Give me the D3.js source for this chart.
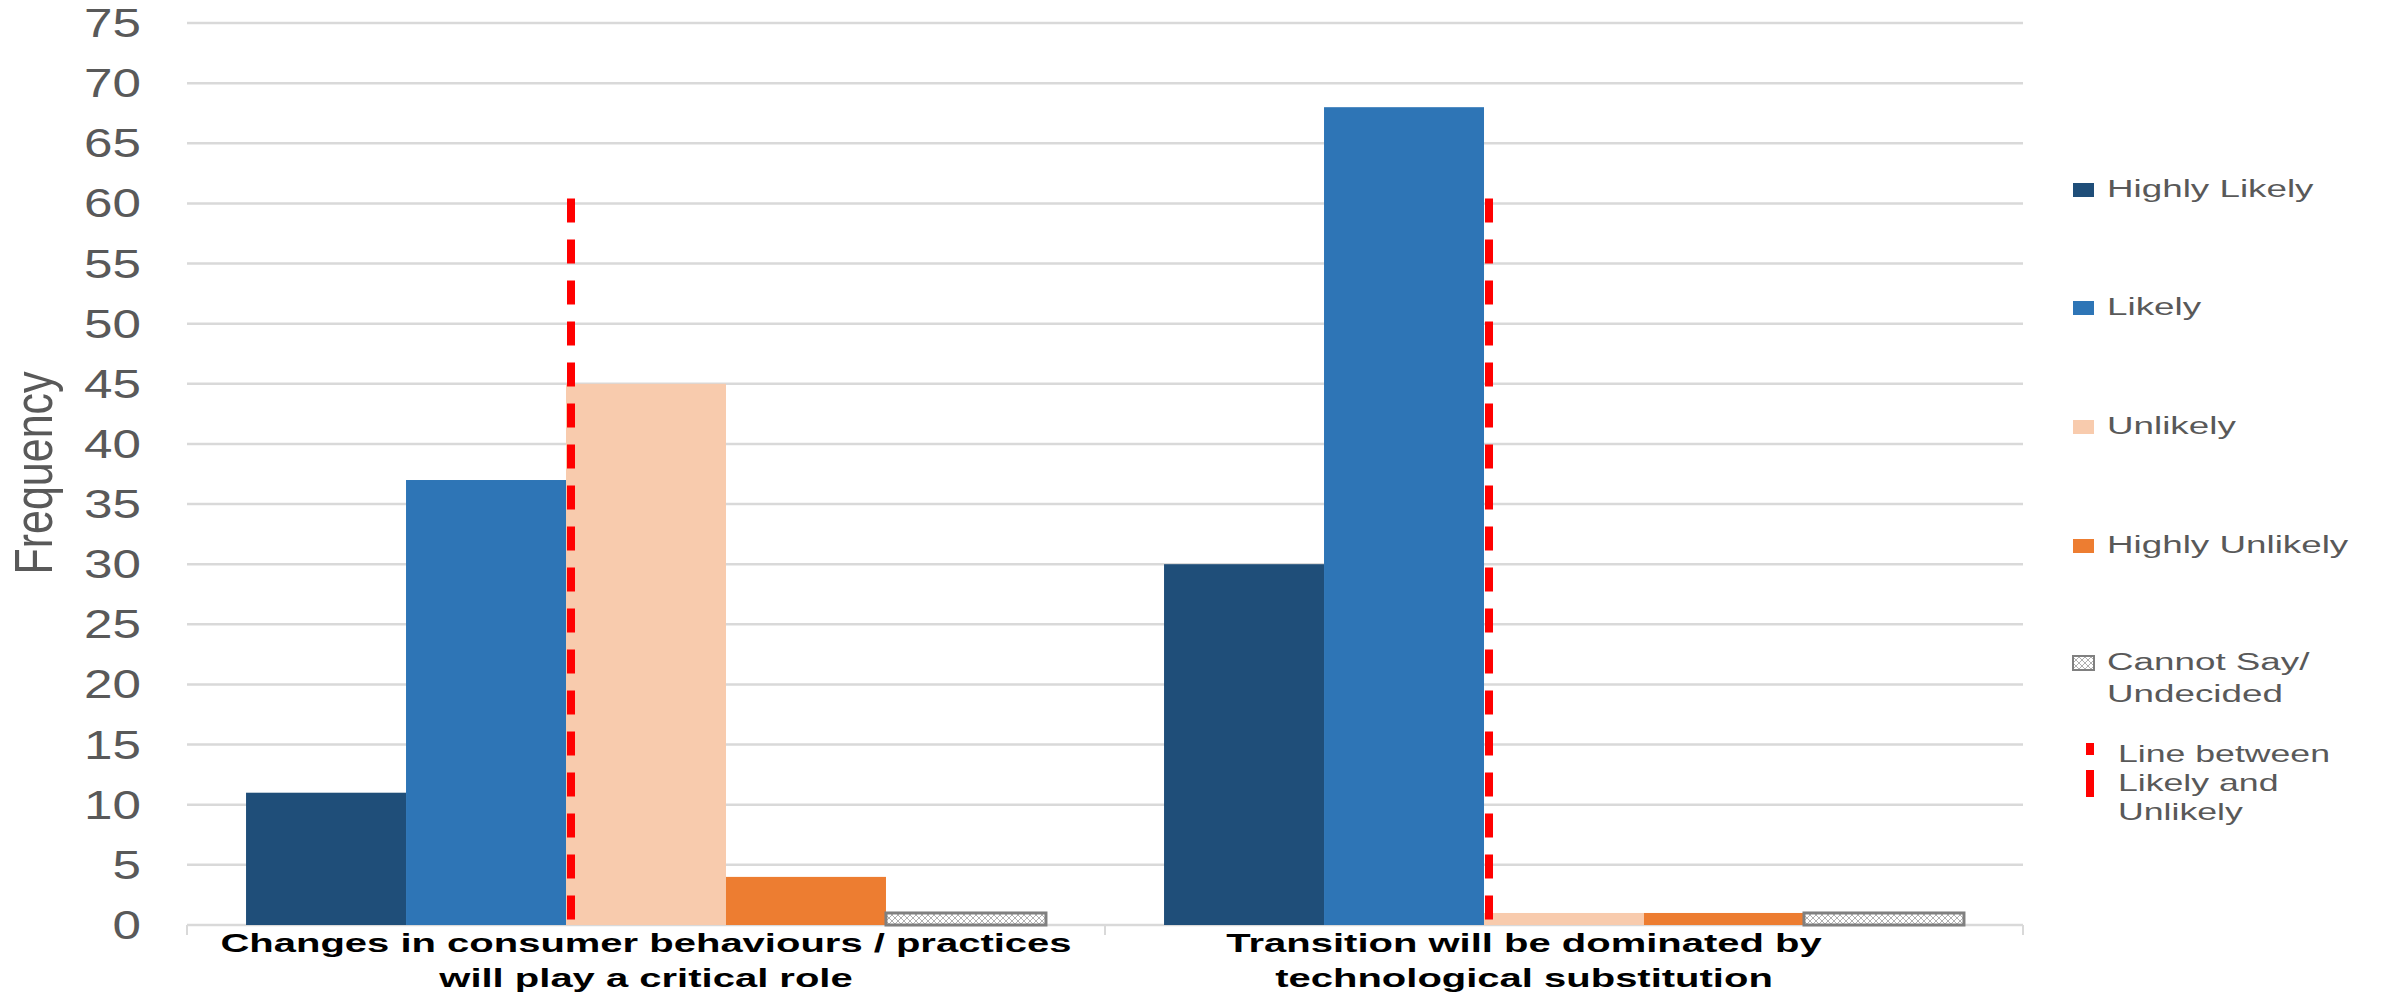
<!DOCTYPE html>
<html lang="en">
<head>
    <meta charset="UTF-8">
    <title>Frequency by statement</title>
    <style>
        body, html {
            margin: 0;
            padding: 0;
            background: #fff;
            overflow: hidden;
        }
        text {
            font-family: "Liberation Sans", Arial, sans-serif;
        }
    </style>
</head>
<body>
    <script src="https://d3js.org/d3.v7.min.js"></script>
    <script>
        // data
        var categories = [
            ["Changes in consumer behaviours / practices", "will play a critical role"],
            ["Transition will be dominated by", "technological substitution"]
        ];
        var labelShift = [0, -40];
        var series = ["Highly Likely", "Likely", "Unlikely", "Highly Unlikely", "Cannot Say/ Undecided"];
        var colors = ["#1F4E79", "#2E75B6", "#F8CBAD", "#ED7D31", "url(#hatch)"];
        var valuesChanges = [11, 37, 45, 4, 1];
        var valuesTransition = [30, 68, 1, 1, 1];
        var lineTop = 60.4;   // red dashed line (Likely / Unlikely split)
        var yTicks = d3.range(0, 80, 5);

        var allValues = [valuesChanges, valuesTransition];

        var width = 2395, height = 1002;
        var plotLeft = 187, plotRight = 2023, plotTop = 23, plotBottom = 925;

        var svg = d3.select("body").append("svg")
            .attr("width", width)
            .attr("height", height);

        // hatch pattern for "Cannot Say"
        var defs = svg.append("defs");
        var pat = defs.append("pattern")
            .attr("id", "hatch")
            .attr("patternUnits", "userSpaceOnUse")
            .attr("width", 6).attr("height", 6);
        pat.append("rect").attr("width", 6).attr("height", 6).attr("fill", "#fff");
        pat.append("path").attr("d", "M0,0 L6,6 M6,0 L0,6")
            .attr("stroke", "#b0b0b0").attr("stroke-width", 1);

        var x0 = d3.scaleBand()
            .domain(d3.range(categories.length))
            .range([plotLeft, plotRight]);

        var x1 = d3.scaleBand()
            .domain(series)
            .range([0, x0.bandwidth()])
            .paddingOuter(0.369);

        var y = d3.scaleLinear()
            .domain([0, 75])
            .range([plotBottom, plotTop]);

        // gridlines
        svg.append("g")
            .selectAll("line")
            .data(yTicks)
            .enter().append("line")
            .attr("x1", plotLeft).attr("x2", plotRight)
            .attr("y1", function(d) { return y(d); })
            .attr("y2", function(d) { return y(d); })
            .attr("stroke", "#d9d9d9")
            .attr("stroke-width", 2.5);

        // y tick labels
        svg.append("g")
            .selectAll("text")
            .data(yTicks)
            .enter().append("text")
            .attr("transform", function(d) { return "translate(141," + (y(d) + 14) + ") scale(1.28,1)"; })
            .attr("text-anchor", "end")
            .attr("font-size", 40)
            .attr("fill", "#595959")
            .text(function(d) { return d; });

        // y title
        svg.append("text")
            .attr("transform", "translate(52,473) rotate(-90) scale(1,1.25)")
            .attr("text-anchor", "middle")
            .attr("font-size", 43)
            .attr("fill", "#595959")
            .text("Frequency");

        // category ticks
        svg.append("g")
            .selectAll("line")
            .data([plotLeft, plotLeft + x0.bandwidth(), plotRight])
            .enter().append("line")
            .attr("x1", function(d) { return d; })
            .attr("x2", function(d) { return d; })
            .attr("y1", plotBottom).attr("y2", plotBottom + 10)
            .attr("stroke", "#d9d9d9")
            .attr("stroke-width", 2);

        // bars
        var groups = svg.append("g")
            .selectAll("g")
            .data(allValues)
            .enter().append("g")
            .attr("transform", function(d, i) { return "translate(" + x0(i) + ",0)"; });

        groups.selectAll("rect")
            .data(function(d) { return d.map(function(v, j) { return {key: series[j], value: v, color: colors[j]}; }); })
            .enter().append("rect")
            .attr("x", function(d) { return x1(d.key); })
            .attr("width", x1.bandwidth())
            .attr("y", function(d) { return y(d.value); })
            .attr("height", function(d) { return y(0) - y(d.value); })
            .attr("fill", function(d) { return d.color; })
            .attr("stroke", function(d) { return d.key === series[4] ? "#808080" : "none"; })
            .attr("stroke-width", 3);

        // red dashed lines between Likely and Unlikely
        groups.append("line")
            .attr("x1", x1("Unlikely") + 5)
            .attr("x2", x1("Unlikely") + 5)
            .attr("y1", y(lineTop))
            .attr("y2", y(0))
            .attr("stroke", "#ff0000")
            .attr("stroke-width", 8)
            .attr("stroke-dasharray", "24,17");

        // category labels
        var catLabels = svg.append("g")
            .selectAll("text")
            .data(categories)
            .enter().append("text")
            .attr("transform", function(d, i) {
                return "translate(" + (x0(i) + x0.bandwidth() / 2 + labelShift[i]) + ",952) scale(1.6,1)";
            })
            .attr("text-anchor", "middle")
            .attr("font-size", 25)
            .attr("font-weight", "bold")
            .attr("fill", "#000");
        catLabels.selectAll("tspan")
            .data(function(d) { return d; })
            .enter().append("tspan")
            .attr("x", 0)
            .attr("dy", function(d, i) { return i === 0 ? 0 : 35; })
            .text(function(d) { return d; });

        // legend
        var legendY = [197, 315, 434, 553, 670];
        var legend = svg.append("g")
            .selectAll("g")
            .data(series)
            .enter().append("g");

        legend.append("rect")
            .attr("x", 2073)
            .attr("y", function(d, i) { return legendY[i] - 14; })
            .attr("width", 21).attr("height", 14)
            .attr("fill", function(d, i) { return colors[i]; })
            .attr("stroke", function(d, i) { return i === 4 ? "#808080" : "none"; })
            .attr("stroke-width", 2);

        var legText = legend.append("text")
            .attr("transform", function(d, i) { return "translate(2107," + legendY[i] + ") scale(1.6,1)"; })
            .attr("font-size", 23)
            .attr("fill", "#595959");
        legText.selectAll("tspan")
            .data(function(d) { return d.indexOf("/ ") > 0 ? ["Cannot Say/", "Undecided"] : [d]; })
            .enter().append("tspan")
            .attr("x", 0)
            .attr("dy", function(d, i) { return i === 0 ? 0 : 32; })
            .text(function(d) { return d; });

        // legend entry for red line
        svg.append("line")
            .attr("x1", 2090).attr("x2", 2090)
            .attr("y1", 743).attr("y2", 797)
            .attr("stroke", "#ff0000")
            .attr("stroke-width", 8)
            .attr("stroke-dasharray", "12,15,27");

        var lineLegend = svg.append("text")
            .attr("transform", "translate(2118,762) scale(1.55,1)")
            .attr("font-size", 23)
            .attr("fill", "#595959");
        lineLegend.selectAll("tspan")
            .data(["Line between", "Likely and", "Unlikely"])
            .enter().append("tspan")
            .attr("x", 0)
            .attr("dy", function(d, i) { return i === 0 ? 0 : 29; })
            .text(function(d) { return d; });
    </script>
</body>
</html>
